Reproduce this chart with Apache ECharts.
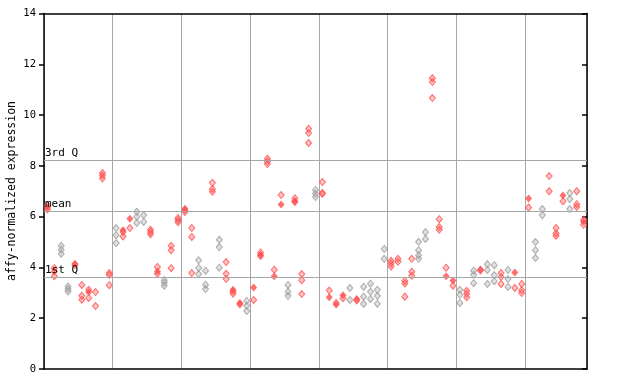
<!DOCTYPE html>
<html>
<head>
<meta charset="utf-8">
<script src="https://cdn.jsdelivr.net/npm/echarts@6/dist/echarts.min.js"></script>
<style>html,body{margin:0;padding:0;background:#fff}#c{width:640px;height:384px}</style>
</head>
<body>
<div id="c"></div>
<script>
// replicate values per sample (hollow diamonds)
const sampleValues = [
  [6.45, 6.28], [3.97, 3.84, 3.65], [4.85, 4.70, 4.54], [3.25, 3.15, 3.05], [4.10],
  [3.31, 2.88, 2.73], [3.12, 2.80], [3.03, 2.48], [7.72, 7.62, 7.50], [3.78, 3.70, 3.30],
  [5.55, 5.27, 4.96], [5.40, 5.22], [5.55], [6.19, 6.00, 5.75], [6.06, 5.79],
  [5.48, 5.40, 5.31], [4.02, 3.75], [3.50, 3.40, 3.28], [4.85, 4.68, 3.97], [5.95, 5.87, 5.78],
  [6.25, 6.18], [5.55, 5.20, 3.78], [4.28, 3.98, 3.74], [3.87, 3.32, 3.15], [7.33, 7.08, 6.98],
  [5.09, 4.80, 3.99], [4.21, 3.75, 3.54], [3.05, 2.96], [2.55], [2.68, 2.49, 2.28],
  [2.72], [4.59, 4.45], [8.28, 8.17, 8.07], [3.91], [6.85],
  [3.31, 3.04, 2.88], [6.72, 6.58], [3.74, 3.50, 2.95], [9.46, 9.29, 8.90], [7.05, 6.90, 6.77],
  [7.36, 6.93, 6.90], [3.09], [2.60], [2.79], [3.19, 2.72],
  [2.70], [3.24, 2.85, 2.56], [3.36, 3.04, 2.76], [3.12, 2.88, 2.57], [4.73, 4.34],
  [4.26, 4.16, 4.04], [4.34, 4.22], [3.47, 3.37, 2.85], [4.34, 3.83, 3.67], [5.01, 4.68, 4.48, 4.34],
  [5.39, 5.12], [11.45, 11.30, 10.67], [5.90, 5.59, 5.48], [3.99], [3.28],
  [3.12, 2.92, 2.60], [3.08, 2.96, 2.83], [3.87, 3.71, 3.38], [3.88], [4.13, 3.90, 3.35],
  [4.09, 3.70, 3.46], [3.78, 3.62, 3.35], [3.90, 3.54, 3.23], [3.19], [3.35, 3.10, 2.99],
  [6.36], [5.00, 4.68, 4.37], [6.30, 6.06], [7.60, 7.00], [5.55, 5.35, 5.25],
  [6.61], [6.93, 6.69, 6.30], [7.00, 6.49, 6.38], [5.88, 5.68]
];
// highlighted (solid) value per sample, null when absent
const solidValues = [
  6.35, null, null, null, 4.14, null, 3.03, null, null, null,
  null, 5.46, 5.92, null, null, null, 3.84, null, null, null,
  6.31, null, null, null, null, null, null, 3.12, 2.60, null,
  3.21, 4.50, null, 3.65, 6.48, null, 6.62, null, null, null,
  null, 2.83, 2.54, 2.90, null, 2.76, null, null, null, null,
  null, null, null, null, null, null, null, null, 3.65, 3.49,
  null, null, null, 3.92, null, null, null, null, 3.80, null,
  6.71, null, null, null, null, 6.83, null, null, 5.80
];
// colour group per sample: r = red, g = grey
const sampleGroup = [
  'r','r','g','g','r','r','r','r','r','r',
  'g','r','r','g','g','r','r','g','r','r',
  'r','r','g','g','r','g','r','r','r','g',
  'r','r','r','r','r','g','r','r','r','g',
  'r','r','r','r','g','r','g','g','g','g',
  'r','r','r','r','g','g','r','r','r','r',
  'g','r','g','r','g','g','r','g','r','r',
  'r','g','g','r','r','r','g','r','r'
];
const quartileLines = [
  {name: '3rd Q', value: 8.23},
  {name: 'mean', value: 6.22},
  {name: '1st Q', value: 3.62}
];
const yTicks = [0, 2, 4, 6, 8, 10, 12, 14];

const redHollow = [], greyHollow = [], redSolid = [];
sampleValues.forEach((vals, i) => {
  vals.forEach(v => (sampleGroup[i] === 'g' ? greyHollow : redHollow).push([i + 0.5, v]));
  if (solidValues[i] != null) redSolid.push([i + 0.5, solidValues[i]]);
});

const FONT = 'DejaVu Sans Mono';
const chart = echarts.init(document.getElementById('c'), null, {renderer: 'canvas'});
chart.setOption({
  animation: false,
  backgroundColor: '#ffffff',
  grid: {left: 44, right: 53, top: 13.5, bottom: 15, containLabel: false},
  xAxis: [{
    type: 'value', min: 0, max: 79, interval: 10, position: 'bottom',
    axisLine: {show: true, onZero: false, lineStyle: {color: '#000', width: 1.5}},
    axisTick: {show: false}, axisLabel: {show: false},
    splitLine: {show: true, lineStyle: {color: '#a6a6a6', width: 1}}
  }, {
    type: 'value', min: 0, max: 79, position: 'top',
    axisLine: {show: true, onZero: false, lineStyle: {color: '#000', width: 1.5}},
    axisTick: {show: false}, axisLabel: {show: false}, splitLine: {show: false}
  }],
  yAxis: [{
    type: 'value', min: 0, max: 14, interval: 2, position: 'left',
    axisLine: {show: true, onZero: false, lineStyle: {color: '#000', width: 1.5}},
    axisTick: {show: true, length: 5, inside: false, lineStyle: {color: '#000', width: 1.5}},
    axisLabel: {show: true, margin: 8, color: '#000', fontFamily: FONT, fontSize: 10.5,
      formatter: v => yTicks.includes(v) ? String(v) : ''},
    splitLine: {show: false}
  }, {
    type: 'value', min: 0, max: 14, interval: 2, position: 'right',
    axisLine: {show: true, onZero: false, lineStyle: {color: '#000', width: 1.5}},
    axisTick: {show: true, length: 5, inside: true, lineStyle: {color: '#000', width: 1.5}},
    axisLabel: {show: false}, splitLine: {show: false}
  }],
  graphic: [{
    type: 'text', x: 12, y: 191, rotation: Math.PI / 2,
    style: {text: 'affy-normalized expression', fontFamily: FONT, fontSize: 11.5,
      fill: '#000', align: 'center', verticalAlign: 'middle'}
  }],
  series: [{
    type: 'scatter', name: 'quartiles', data: [], xAxisIndex: 0, yAxisIndex: 0,
    markLine: {
      silent: true, symbol: 'none',
      lineStyle: {color: '#a6a6a6', width: 1, type: 'solid'},
      label: {show: true, position: 'insideStartTop', distance: [1, 1], color: '#000',
        fontFamily: FONT, fontSize: 11, formatter: p => p.name},
      data: quartileLines.map(q => ({name: q.name, yAxis: q.value}))
    }
  }, {
    type: 'scatter', name: 'grey', data: greyHollow, symbol: 'diamond', symbolSize: [6, 7],
    itemStyle: {color: 'rgba(170,170,170,0.45)', borderColor: '#9a9a9a', borderWidth: 1}
  }, {
    type: 'scatter', name: 'red', data: redHollow, symbol: 'diamond', symbolSize: [6, 7],
    itemStyle: {color: 'rgba(255,90,90,0.45)', borderColor: '#ff4d4d', borderWidth: 1}
  }, {
    type: 'scatter', name: 'redSolid', data: redSolid, symbol: 'diamond', symbolSize: [7, 8],
    itemStyle: {color: '#ff4d4d'}
  }]
});
</script>
</body>
</html>
